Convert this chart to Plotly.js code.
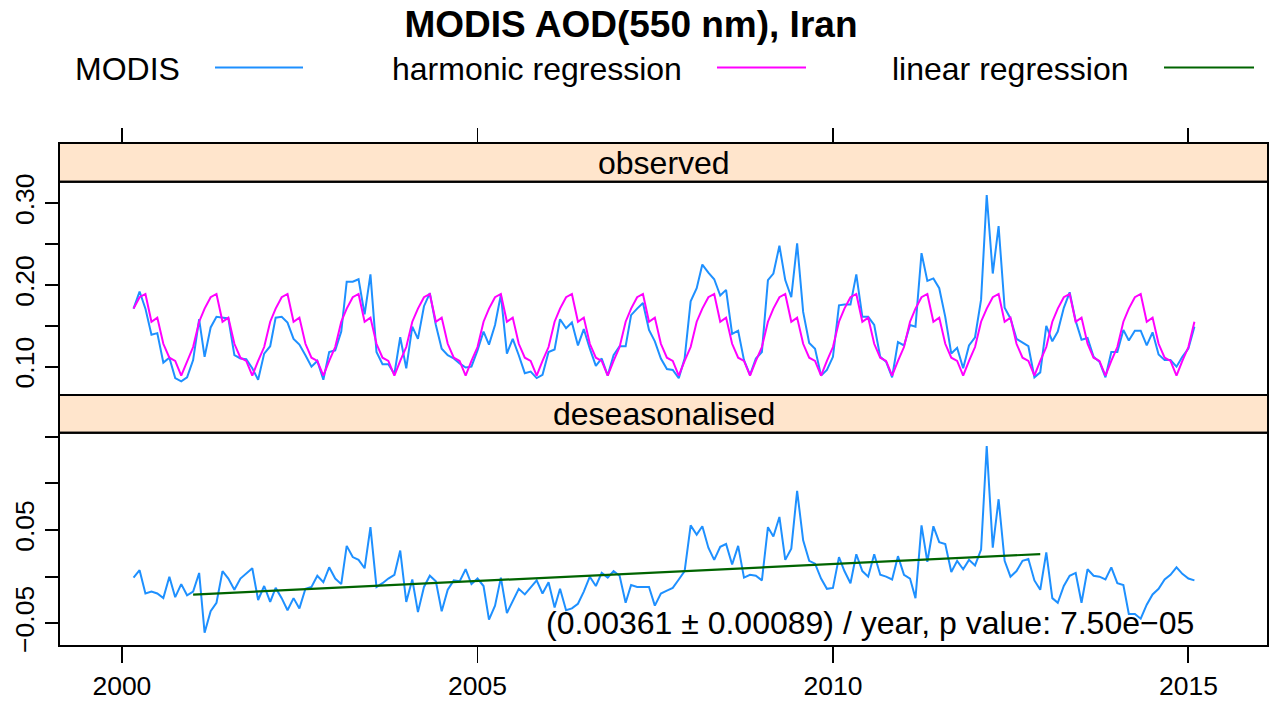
<!DOCTYPE html>
<html><head><meta charset="utf-8">
<script src="https://cdn.plot.ly/plotly-3.0.1.min.js"></script>
<style>html,body{margin:0;padding:0;background:#fff}#chart{width:1271px;height:703px}</style>
</head><body><div id="chart"></div>
<script>
// ---------- data ----------
const startYear = 2000, startMonth = 3;   // first monthly value: March 2000
const observed = [
  0.171,0.192,0.171,0.139,0.141,0.105,0.111,0.086,0.082,0.087,
  0.108,0.158,0.112,0.148,0.161,0.160,0.159,0.114,0.110,0.109,0.098,0.084,
  0.116,0.125,0.160,0.161,0.154,0.134,0.127,0.114,0.100,0.107,0.084,0.118,
  0.120,0.143,0.204,0.204,0.207,0.164,0.213,0.118,0.103,0.103,0.091,0.136,
  0.098,0.149,0.134,0.174,0.190,0.151,0.122,0.114,0.110,0.104,0.099,0.100,
  0.120,0.143,0.127,0.151,0.188,0.116,0.134,0.114,0.092,0.094,0.086,0.090,
  0.118,0.121,0.158,0.147,0.154,0.126,0.146,0.122,0.101,0.110,0.089,0.114,
  0.125,0.125,0.163,0.171,0.178,0.145,0.131,0.110,0.097,0.096,0.086,0.110,
  0.180,0.196,0.225,0.215,0.207,0.187,0.194,0.140,0.144,0.108,0.090,0.110,
  0.118,0.206,0.214,0.248,0.206,0.185,0.251,0.167,0.129,0.122,0.089,0.096,
  0.112,0.175,0.176,0.176,0.213,0.161,0.161,0.151,0.112,0.106,0.087,0.130,
  0.126,0.151,0.149,0.239,0.205,0.208,0.196,0.161,0.116,0.123,0.098,0.126,
  0.136,0.182,0.310,0.214,0.272,0.172,0.159,0.134,0.129,0.125,0.087,0.093,
  0.150,0.131,0.143,0.172,0.191,0.156,0.133,0.135,0.112,0.106,0.087,0.118,
  0.118,0.145,0.132,0.144,0.144,0.126,0.142,0.115,0.108,0.108,0.100,0.112,
  0.122,0.149
];
const harmonic = [
  0.171,0.185,0.189,0.155,0.160,0.128,0.111,0.107,0.089,0.107,
  0.124,0.155,0.171,0.185,0.189,0.155,0.160,0.128,0.111,0.107,0.089,0.107,
  0.124,0.155,0.171,0.185,0.189,0.155,0.160,0.128,0.111,0.107,0.089,0.107,
  0.124,0.155,0.171,0.185,0.189,0.155,0.160,0.128,0.111,0.107,0.089,0.107,
  0.124,0.155,0.171,0.185,0.189,0.155,0.160,0.128,0.111,0.107,0.089,0.107,
  0.124,0.155,0.171,0.185,0.189,0.155,0.160,0.128,0.111,0.107,0.089,0.107,
  0.124,0.155,0.171,0.185,0.189,0.155,0.160,0.128,0.111,0.107,0.089,0.107,
  0.124,0.155,0.171,0.185,0.189,0.155,0.160,0.128,0.111,0.107,0.089,0.107,
  0.124,0.155,0.171,0.185,0.189,0.155,0.160,0.128,0.111,0.107,0.089,0.107,
  0.124,0.155,0.171,0.185,0.189,0.155,0.160,0.128,0.111,0.107,0.089,0.107,
  0.124,0.155,0.171,0.185,0.189,0.155,0.160,0.128,0.111,0.107,0.089,0.107,
  0.124,0.155,0.171,0.185,0.189,0.155,0.160,0.128,0.111,0.107,0.089,0.107,
  0.124,0.155,0.171,0.185,0.189,0.155,0.160,0.128,0.111,0.107,0.089,0.107,
  0.124,0.155,0.171,0.185,0.189,0.155,0.160,0.128,0.111,0.107,0.089,0.107,
  0.124,0.155,0.171,0.185,0.189,0.155,0.160,0.128,0.111,0.107,0.089,0.107,
  0.124,0.155
];
const deseasonalised = [
  -0.001,0.007,-0.018,-0.016,-0.018,-0.023,0.000,-0.022,-0.008,-0.020,
  -0.016,0.004,-0.060,-0.037,-0.028,0.006,-0.002,-0.014,-0.002,0.003,0.009,-0.025,
  -0.010,-0.027,-0.012,-0.023,-0.036,-0.023,-0.034,-0.013,-0.011,0.001,-0.006,0.010,
  -0.002,-0.008,0.033,0.021,0.018,0.009,0.053,-0.011,-0.007,-0.002,0.002,0.028,
  -0.027,-0.003,-0.038,-0.011,0.001,-0.005,-0.037,-0.014,-0.004,-0.005,0.008,-0.008,
  -0.002,-0.010,-0.046,-0.031,-0.001,-0.039,-0.026,-0.013,-0.019,-0.012,-0.004,-0.018,
  -0.006,-0.033,-0.013,-0.036,-0.034,-0.029,-0.016,0.000,-0.010,0.004,-0.001,0.006,
  0.001,-0.028,-0.009,-0.011,-0.011,-0.011,-0.031,-0.018,-0.015,-0.012,-0.003,0.006,
  0.055,0.045,0.054,0.031,0.018,0.032,0.035,0.013,0.033,-0.001,0.002,0.001,
  -0.004,0.053,0.043,0.064,0.018,0.030,0.092,0.039,0.017,0.014,-0.002,-0.013,
  -0.012,0.021,0.006,-0.007,0.024,0.006,0.000,0.024,0.002,0.000,-0.003,0.022,
  0.002,-0.002,-0.023,0.055,0.016,0.054,0.037,0.035,0.005,0.017,0.008,0.018,
  0.012,0.029,0.140,0.031,0.083,0.017,0.000,0.006,0.017,0.019,-0.004,-0.014,
  0.026,-0.023,-0.028,-0.010,0.001,0.004,-0.028,0.008,0.001,0.000,-0.003,0.010,
  -0.007,-0.009,-0.040,-0.040,-0.045,-0.030,-0.019,-0.013,-0.003,0.002,0.010,0.003,
  -0.002,-0.004
];
const trendX = ['2001-01-01', '2012-12-01'];
const trendY = [-0.0192, 0.0242];

const xTickVals = ['2000-01-01', '2005-01-01', '2010-01-01', '2015-01-01'];
const xTickText = ['2000', '2005', '2010', '2015'];
const obsTickVals = [0.10, 0.15, 0.20, 0.25, 0.30];
const obsTickText = ['0.10', '', '0.20', '', '0.30'];
const desTickVals = [-0.05, 0, 0.05, 0.10, 0.15];
const desTickText = ['\u22120.05', '', '0.05', '', ''];

const seriesNames = ['MODIS', 'harmonic regression', 'linear regression'];
const stripLabels = ['observed', 'deseasonalised'];
const chartTitle = 'MODIS AOD(550 nm), Iran';
const trendLabel = '(0.00361 \u00b1 0.00089) / year, p value: 7.50e\u221205';

// ---------- helpers ----------
function monthDates(n) {
  const out = [];
  for (let k = 0; k < n; k++) {
    const m = startMonth - 1 + k;
    const y = startYear + Math.floor(m / 12);
    const mm = (m % 12) + 1;
    out.push(y + '-' + String(mm).padStart(2, '0') + '-01');
  }
  return out;
}
const dates = monthDates(observed.length);

const W = 1271, H = 703, L = 59, R = 3, T = 143, B = 57;
const plotW = W - L - R, plotH = H - T - B;
const px = x => (x - L) / plotW;
const py = y => (H - B - y) / plotH;

const topDom = [py(395), py(181.7)];
const botDom = [0, py(432.7)];
const FONT = 'Liberation Sans, Arial, Helvetica, sans-serif';
const cBlue = '#1E90FF', cMag = '#FF00FF', cGreen = '#006400';
const TXT = 32;

const traces = [
  {x: dates, y: observed, name: seriesNames[0], type: 'scatter', mode: 'lines',
   line: {color: cBlue, width: 2}, xaxis: 'x', yaxis: 'y', showlegend: false},
  {x: dates, y: harmonic, name: seriesNames[1], type: 'scatter', mode: 'lines',
   line: {color: cMag, width: 2}, xaxis: 'x', yaxis: 'y', showlegend: false},
  {x: dates, y: deseasonalised, name: seriesNames[0], type: 'scatter', mode: 'lines',
   line: {color: cBlue, width: 2}, xaxis: 'x2', yaxis: 'y2', showlegend: false},
  {x: trendX, y: trendY, name: seriesNames[2], type: 'scatter', mode: 'lines',
   line: {color: cGreen, width: 2.2}, xaxis: 'x2', yaxis: 'y2', showlegend: false}
];

const xRange = ['1999-02-12', '2016-02-14'];
const tickFont = {family: FONT, size: 26.5, color: '#000'};

const layout = {
  width: W, height: H,
  margin: {l: L, r: R, t: T, b: B, pad: 0},
  paper_bgcolor: '#fff', plot_bgcolor: '#fff',
  font: {family: FONT, color: '#000'},
  showlegend: false,
  title: {text: '<b>' + chartTitle + '</b>', font: {family: FONT, size: 37, color: '#000'},
          x: 631 / W, xref: 'container', xanchor: 'center', y: 1 - 24 / H, yref: 'container', yanchor: 'middle'},
  xaxis: {domain: [0, 1], range: xRange, type: 'date', anchor: 'free', position: 1, side: 'top',
          tickvals: xTickVals, ticktext: xTickText, showticklabels: false, ticks: 'outside',
          ticklen: 15, tickwidth: 1.8, tickcolor: '#000', showgrid: false, zeroline: false, showline: false},
  xaxis2: {domain: [0, 1], range: xRange, type: 'date', anchor: 'y2', matches: 'x',
          tickvals: xTickVals, ticktext: xTickText, ticks: 'outside', ticklen: 16, tickwidth: 1.8,
          tickcolor: '#000', tickfont: tickFont, showgrid: false, zeroline: false, showline: false},
  yaxis: {domain: topDom, range: [0.0653, 0.3264], anchor: 'free', position: 0,
          tickvals: obsTickVals, ticktext: obsTickText, ticks: 'outside', ticklen: 14, tickwidth: 1.8,
          tickcolor: '#000', tickfont: tickFont, tickangle: -90, showgrid: false, zeroline: false, showline: false},
  yaxis2: {domain: botDom, range: [-0.0743, 0.1543], anchor: 'free', position: 0,
          tickvals: desTickVals, ticktext: desTickText, ticks: 'outside', ticklen: 14, tickwidth: 1.8,
          tickcolor: '#000', tickfont: tickFont, tickangle: -90, showgrid: false, zeroline: false, showline: false},
  shapes: [
    {type: 'rect', xref: 'paper', yref: 'paper', x0: 0, x1: 1, y0: topDom[1], y1: 1,
     fillcolor: '#FFE5CC', line: {color: '#000', width: 2}, layer: 'below'},
    {type: 'rect', xref: 'paper', yref: 'paper', x0: 0, x1: 1, y0: botDom[1], y1: topDom[0],
     fillcolor: '#FFE5CC', line: {color: '#000', width: 2}, layer: 'below'},
    {type: 'rect', xref: 'paper', yref: 'paper', x0: 0, x1: 1, y0: topDom[0], y1: topDom[1],
     line: {color: '#000', width: 2}},
    {type: 'rect', xref: 'paper', yref: 'paper', x0: 0, x1: 1, y0: botDom[0], y1: botDom[1],
     line: {color: '#000', width: 2}},
    {type: 'line', xref: 'paper', yref: 'paper', x0: px(215), x1: px(303), y0: py(67.5), y1: py(67.5),
     line: {color: cBlue, width: 2}},
    {type: 'line', xref: 'paper', yref: 'paper', x0: px(717), x1: px(806), y0: py(67.5), y1: py(67.5),
     line: {color: cMag, width: 2}},
    {type: 'line', xref: 'paper', yref: 'paper', x0: px(1164), x1: px(1254), y0: py(67.5), y1: py(67.5),
     line: {color: cGreen, width: 2}}
  ],
  annotations: [
    {text: stripLabels[0], xref: 'paper', yref: 'paper', x: 0.5, y: py(162.5), xanchor: 'center', yanchor: 'middle',
     showarrow: false, font: {family: FONT, size: TXT, color: '#000'}},
    {text: stripLabels[1], xref: 'paper', yref: 'paper', x: 0.5, y: py(414), xanchor: 'center', yanchor: 'middle',
     showarrow: false, font: {family: FONT, size: TXT, color: '#000'}},
    {text: trendLabel, xref: 'paper', yref: 'paper', x: px(1196), y: py(623), xanchor: 'right', yanchor: 'middle',
     showarrow: false, font: {family: FONT, size: TXT, color: '#000'}},
    {text: seriesNames[0], xref: 'paper', yref: 'paper', x: px(127.5), y: py(69), xanchor: 'center', yanchor: 'middle',
     showarrow: false, font: {family: FONT, size: TXT, color: '#000'}},
    {text: seriesNames[1], xref: 'paper', yref: 'paper', x: px(537), y: py(69), xanchor: 'center', yanchor: 'middle',
     showarrow: false, font: {family: FONT, size: TXT, color: '#000'}},
    {text: seriesNames[2], xref: 'paper', yref: 'paper', x: px(1010.5), y: py(69), xanchor: 'center', yanchor: 'middle',
     showarrow: false, font: {family: FONT, size: TXT, color: '#000'}}
  ]
};

Plotly.newPlot('chart', traces, layout, {displayModeBar: false, staticPlot: true});
</script>
</body></html>
